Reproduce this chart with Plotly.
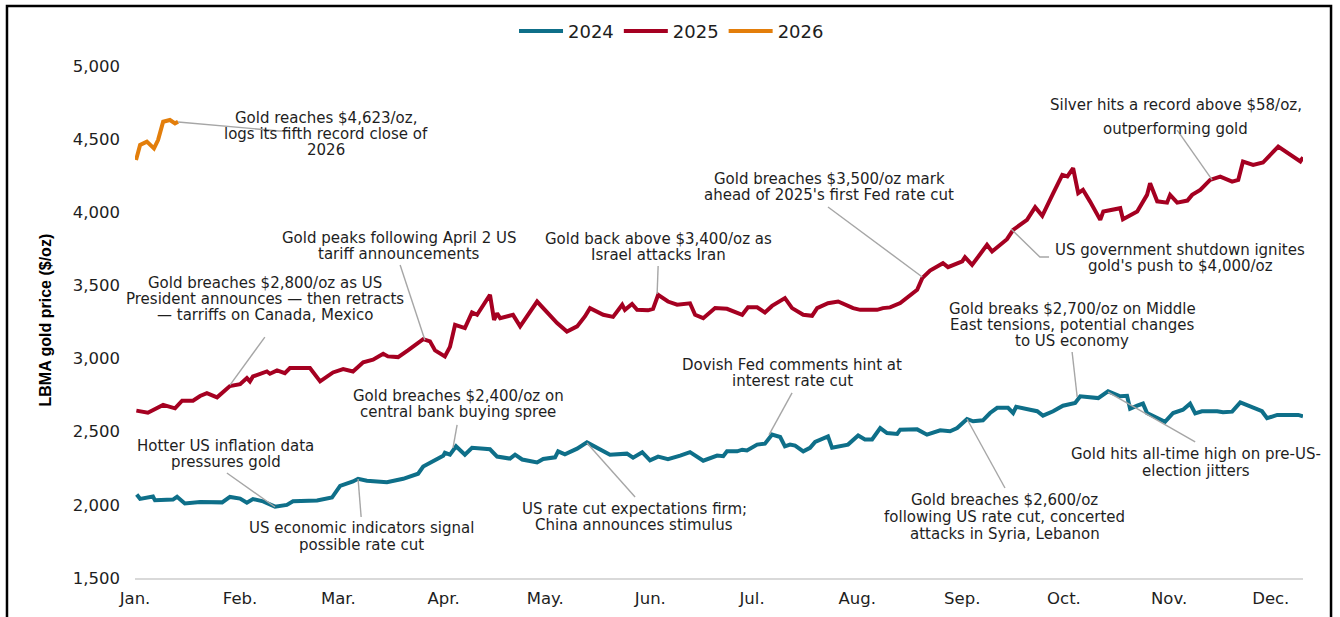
import plotly.graph_objects as go

# ---------------- data (day of year, LBMA price $/oz) ----------------
MONTH_LABELS = ["Jan.", "Feb.", "Mar.", "Apr.", "May.", "Jun.",
                "Jul.", "Aug.", "Sep.", "Oct.", "Nov.", "Dec."]
MONTH_START_DAYS = [0, 31, 60, 91, 121, 152, 182, 213, 244, 274, 305, 335]
Y_TICKS = [1500, 2000, 2500, 3000, 3500, 4000, 4500, 5000]

DAYS_2024 = [0.5, 1.5, 5.3, 5.9, 11.2, 12.4, 14.7, 19.2, 25.7, 28.0, 31.0, 33.0,
             34.8, 37.8, 41.3, 44.8, 46.6, 53.7, 58.1, 60.5, 64.3, 65.8, 68.4,
             74.3, 79.1, 83.5, 85.0, 87.9, 90.9, 91.4, 92.9, 94.7, 97.3, 99.4,
             104.7, 106.8, 110.6, 112.1, 114.2, 118.6, 120.4, 123.9, 124.8,
             126.8, 130.4, 133.3, 136.6, 140.1, 145.1, 146.9, 149.6, 151.9,
             154.3, 157.2, 160.8, 163.7, 167.6, 171.7, 173.5, 174.6, 177.6,
             179.1, 180.5, 183.5, 185.8, 187.9, 190.3, 191.7, 193.2, 194.7,
             197.1, 199.1, 200.6, 204.4, 205.6, 210.3, 213.3, 215.3, 217.4,
             219.8, 221.8, 224.8, 225.7, 230.7, 233.6, 237.5, 240.4, 242.5,
             245.4, 247.2, 250.1, 252.2, 254.3, 257.5, 259.0, 259.9, 264.0,
             266.1, 267.8, 270.8, 273.7, 277.3, 278.8, 284.1, 287.0, 290.6,
             292.6, 293.5, 295.6, 297.3, 298.5, 300.3, 303.8, 306.2, 309.1,
             311.2, 312.7, 314.7, 319.2, 320.9, 323.6, 326.0, 328.9, 332.4,
             333.9, 336.9, 343.1, 344.5]
PRICE_2024 = [2070, 2041, 2057, 2031, 2036, 2055, 2009, 2020, 2017, 2054, 2043, 2015,
              2040, 2024, 1988, 2000, 2024, 2030, 2050, 2130, 2160, 2178, 2165,
              2154, 2178, 2213, 2262, 2296, 2335, 2356, 2343, 2400, 2343, 2390,
              2380, 2330, 2316, 2343, 2310, 2290, 2314, 2325, 2366,
              2345, 2384, 2427, 2384, 2343, 2350, 2323, 2360, 2304,
              2330, 2313, 2337, 2360, 2302, 2337, 2333, 2366, 2366,
              2377, 2372, 2412, 2418, 2480, 2464, 2400, 2412, 2405,
              2366, 2390, 2430, 2468, 2390, 2412, 2474, 2447, 2447,
              2525, 2491, 2485, 2514, 2516, 2480, 2510, 2503, 2525,
              2587, 2571, 2578, 2628, 2663, 2663, 2628, 2670, 2650,
              2640, 2610, 2640, 2678, 2697, 2742, 2730, 2776, 2742,
              2745, 2657, 2678, 2692, 2628, 2605, 2568, 2628, 2650,
              2692, 2625, 2640, 2640, 2633, 2637, 2700, 2670, 2640,
              2592, 2615, 2615, 2605]

DAYS_2025 = [0.4, 3.8, 8.3, 11.8, 13.9, 17.1, 19.2, 21.2, 24.2, 28.0, 31.0, 33.0,
             33.9, 34.8, 38.9, 39.8, 41.9, 44.2, 45.7, 51.6, 54.6, 58.4, 61.4,
             64.3, 67.3, 70.2, 73.2, 74.6, 77.6, 79.1, 80.5, 85.0, 87.0, 88.5,
             91.4, 92.9, 94.4, 97.3, 99.4, 100.9, 104.7, 105.9, 106.8, 107.7,
             111.5, 113.6, 118.6, 124.5, 127.4, 130.4, 132.7, 134.2, 138.1,
             141.0, 143.7, 144.5, 146.6, 148.1, 151.3, 152.8, 154.3, 157.2,
             159.9, 163.7, 165.2, 167.6, 171.1, 174.6, 179.1, 180.8, 183.5,
             185.8, 187.9, 191.7, 193.8, 197.1, 199.7, 201.2, 204.4, 207.4,
             211.8, 213.9, 218.9, 220.6, 222.7, 225.7, 227.7, 230.7, 232.2,
             234.5, 238.3, 239.8, 244.0, 244.8, 246.9, 251.3, 252.8, 257.2,
             259.0, 263.1, 265.5, 267.6, 270.8, 273.5, 275.0, 276.7, 278.2,
             279.6, 281.7, 284.7, 285.6, 290.6, 291.4, 295.6, 298.5, 299.4,
             301.5, 304.4, 305.3, 307.4, 310.4, 311.8, 314.2, 317.1, 320.1,
             323.6, 325.4, 326.8, 329.8, 332.7, 337.2, 343.7, 344.5]
PRICE_2025 = [2644, 2630, 2683, 2660, 2712, 2712, 2744, 2763, 2735, 2812, 2825, 2867,
              2844, 2878, 2912, 2896, 2919, 2900, 2935, 2935, 2844, 2905, 2928,
              2912, 2974, 2992, 3033, 3015, 3010, 3033, 3056, 3133, 3118, 3056,
              3015, 3080, 3231, 3208, 3315, 3299, 3436, 3265, 3310, 3276,
              3299, 3220, 3390, 3243, 3185, 3220, 3288, 3345, 3299,
              3285, 3368, 3333, 3373, 3333, 3330, 3340, 3436, 3390,
              3368, 3378, 3299, 3276, 3345, 3340, 3299, 3350, 3350,
              3315, 3360, 3413, 3345, 3299, 3292, 3345, 3378, 3390,
              3345, 3333, 3333, 3345, 3350, 3380, 3413, 3470, 3550,
              3602, 3652, 3625, 3664, 3693, 3640, 3777, 3732, 3816,
              3880, 3948, 4035, 3976, 4130, 4256, 4245, 4301, 4131,
              4154, 4073, 3948, 4005, 4028, 3953, 4005, 4119, 4199,
              4075, 4066, 4119, 4066, 4080, 4119, 4153, 4221, 4244,
              4210, 4221, 4347, 4324, 4340, 4449, 4347, 4376]

DAYS_2026 = [0.3, 1.5, 3.5, 5.6, 6.8, 8.3, 10.3, 11.8, 12.7]
PRICE_2026 = [4357, 4460, 4483, 4437, 4494, 4619, 4631, 4608, 4619]

SERIES = [("2024", DAYS_2024, PRICE_2024, "#0E6F89"),
          ("2025", DAYS_2025, PRICE_2025, "#A50021"),
          ("2026", DAYS_2026, PRICE_2026, "#E37E0B")]

# annotations: text lines, centre day, first-line price, line gap (px), leader path
ANNOTATIONS = [
    (["Gold reaches $4,623/oz,", "logs its fifth record close of", "2026"],
     56.3, 4643, 16, [(12.7, 4617), (42.5, 4556), (45.1, 4556)]),
    (["Silver hits a record above $58/oz,", "outperforming gold"],
     306.9, 4733, 23.5, [(307.4, 4562), (317.7, 4221)]),
    (["Gold breaches $3,500/oz mark", "ahead of 2025's first Fed rate cut"],
     204.7, 4228, 16, [(204.4, 4036), (232.2, 3558)]),
    (["US government shutdown ignites", "gold's push to $4,000/oz"],
     308.3, 3744, 16, [(258.4, 3886), (266.9, 3694), (269.6, 3694)]),
    (["Gold peaks following April 2 US", "tariff announcements"],
     78.0, 3826, 16, [(78.2, 3640), (85.5, 3127)]),
    (["Gold breaches $2,800/oz as US", "President announces \u2014 then retracts",
      "\u2014 tarriffs on Canada, Mexico"],
     38.2, 3517, 16, [(38.3, 3147), (28.0, 2819)]),
    (["Gold back above $3,400/oz as", "Israel attacks Iran"],
     154.4, 3819, 16, [(154.3, 3633), (154.0, 3441)]),
    (["Dovish Fed comments hint at", "interest rate cut"],
     193.8, 2954, 16, [(193.8, 2765), (187.0, 2478)]),
    (["Gold breaches $2,400/oz on", "central bank buying spree"],
     95.3, 2742, 16, [(95.0, 2546), (93.8, 2389)]),
    (["Hotter US inflation data", "pressures gold"],
     26.8, 2400, 16, [(27.1, 2218), (41.3, 1985)]),
    (["US economic indicators signal", "possible rate cut"],
     66.8, 1842, 16.7, [(66.7, 1917), (65.8, 2177)]),
    (["US rate cut expectations firm;", "China announces stimulus"],
     147.2, 1974, 16.6, [(147.5, 2054), (133.3, 2423)]),
    (["Gold breaks $2,700/oz on Middle", "East tensions, potential changes",
      "to US economy"],
     276.5, 3341, 16.3, [(276.4, 3045), (277.9, 2737)]),
    (["Gold hits all-time high on pre-US-", "election jitters"],
     312.8, 2349, 16.7, [(312.7, 2430), (287.0, 2771)]),
    (["Gold breaches $2,600/oz", "following US rate cut, concerted",
      "attacks in Syria, Lebanon"],
     256.6, 2030, 16.6, [(256.6, 2115), (245.4, 2587)]),
]

TEXT_FONT = dict(family="DejaVu Sans", size=15, color="#1e1e1e")
TICK_FONT = dict(family="DejaVu Sans", size=16.5, color="#1e1e1e")

fig = go.Figure()
for name, days, prices, color in SERIES:
    fig.add_trace(go.Scatter(x=days, y=prices, mode="lines", name=name,
                             line=dict(color=color, width=4)))

for lines, cx, cy, gap, leader in ANNOTATIONS:
    path = "M " + " L ".join(f"{d},{v}" for d, v in leader)
    fig.add_shape(type="path", path=path, xref="x", yref="y",
                  line=dict(color="#A6A6A6", width=1.4), layer="above")
    for i, line in enumerate(lines):
        fig.add_annotation(x=cx, y=cy, xref="x", yref="y", text=line,
                           showarrow=False, xanchor="center", yanchor="middle",
                           yshift=-i * gap, font=TEXT_FONT)

# y-axis title
fig.add_annotation(x=-0.077, y=0.503, xref="paper", yref="paper",
                   text="<b>LBMA gold price ($/oz)</b>", textangle=-90,
                   showarrow=False, xanchor="center", yanchor="middle",
                   font=dict(family="Liberation Sans", size=16, color="#000"))

# outer frame
fig.add_shape(type="rect", xref="paper", yref="paper",
              x0=-0.1096, x1=1.024, y0=-0.092, y1=1.1172,
              line=dict(color="#000", width=2.5), layer="above")

fig.update_layout(
    width=1340, height=617,
    margin=dict(l=135, r=37, t=66, b=39, autoexpand=False),
    paper_bgcolor="white", plot_bgcolor="white",
    showlegend=True,
    legend=dict(orientation="h", x=0.3245, y=1.068, xanchor="left",
                yanchor="middle", font=dict(family="DejaVu Sans", size=18,
                                            color="#1e1e1e"),
                itemwidth=44, bgcolor="rgba(0,0,0,0)"),
    xaxis=dict(range=[0, 344.5], tickvals=MONTH_START_DAYS,
               ticktext=MONTH_LABELS, showgrid=False, zeroline=False,
               showline=True, linecolor="#D9D9D9", linewidth=1.5,
               ticks="", tickfont=TICK_FONT, ticklabelstandoff=4),
    yaxis=dict(range=[1500, 5000], tickvals=Y_TICKS, tickformat=",",
               showgrid=False, zeroline=False, showline=False, ticks="",
               tickfont=TICK_FONT, ticklabelstandoff=14),
)

fig.write_html("out.html", config={"displayModeBar": False},
               post_script="document.body.style.margin='0';")
